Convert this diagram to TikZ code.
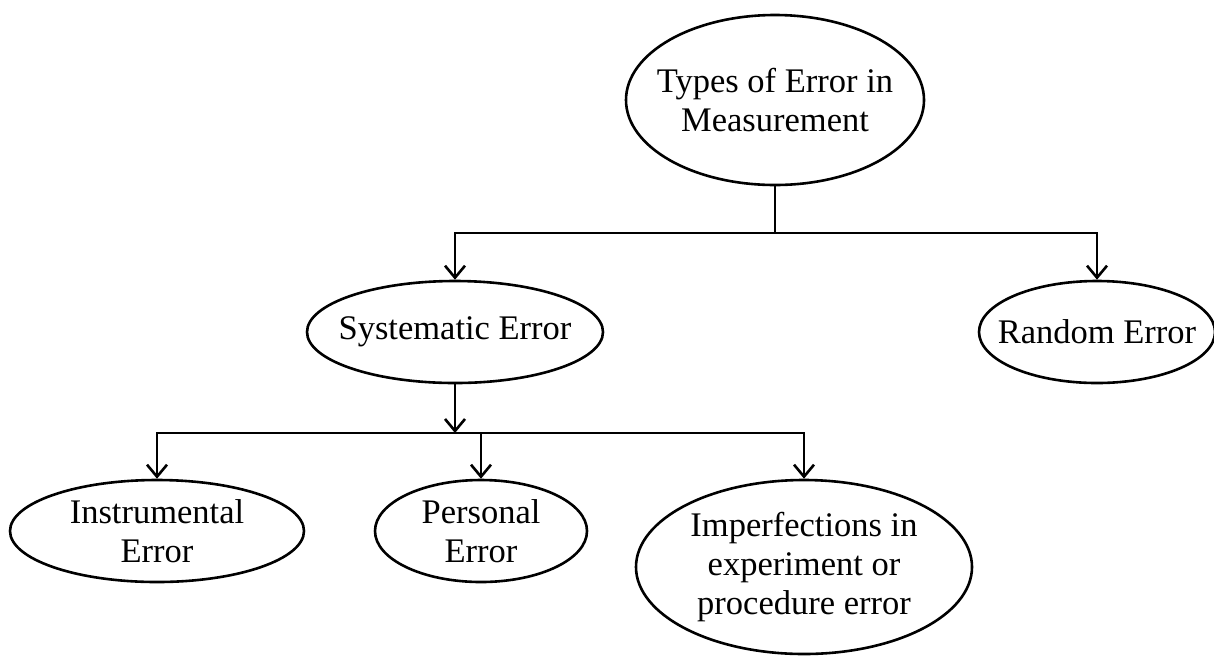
\documentclass[tikz,border=0pt]{standalone}
\usepackage{fontspec}
\setmainfont{Liberation Serif}
\usetikzlibrary{shapes.geometric,arrows.meta}

\begin{document}
\begin{tikzpicture}[x=1pt,y=-1pt,line width=2.6pt,
		oval/.style={draw,ellipse,inner sep=0pt},
		txt/.style={align=center,font=\fontsize{34.5}{39}\selectfont},
		arr/.style={-{Straight Barb[length=12pt,width=20pt]}}]
		\useasboundingbox (0,0) rectangle (1214,657);
		\clip (0,0) rectangle (1214,657);
		\def\lev{233}% first junction
		\def\levb{433}% second junction
		% ellipses
		\node[oval,minimum width=298pt,minimum height=170pt,
			label={[txt]center:{Types of Error in\\Measurement}}] (types) at (775,100) {};
		\node[oval,minimum width=296pt,minimum height=102pt,
			label={[txt]center:{Systematic Error}}] (sys) at (455,332) {};
		\node[oval,minimum width=236pt,minimum height=102pt,
			label={[txt]center:{Random Error}}] (ran) at (1097,332) {};
		\node[oval,minimum width=294pt,minimum height=102pt,
			label={[txt]center:{Instrumental\\Error}}] (ins) at (157,531) {};
		\node[oval,minimum width=212pt,minimum height=102pt,
			label={[txt]center:{Personal\\Error}}] (per) at (481,531) {};
		\node[oval,minimum width=336pt,minimum height=174pt,
			label={[txt]center:{Imperfections in\\experiment or\\procedure error}}] (imp) at (804,567) {};
		% connectors
		\coordinate (j1) at (775,\lev);
		\coordinate (j2) at (455,\levb);
		\draw (types.south) -- (j1);
		\draw[arr] (j1) -| (sys.north);
		\draw[arr] (j1) -| (ran.north);
		\draw[arr] (sys.south) -- (j2);
		\draw[arr] (j2) -| (ins.north);
		\draw[arr] (j2) -| (imp.north);
		\draw[arr] (per.north |- j2) -- (per.north);
	\end{tikzpicture}
\end{document}
